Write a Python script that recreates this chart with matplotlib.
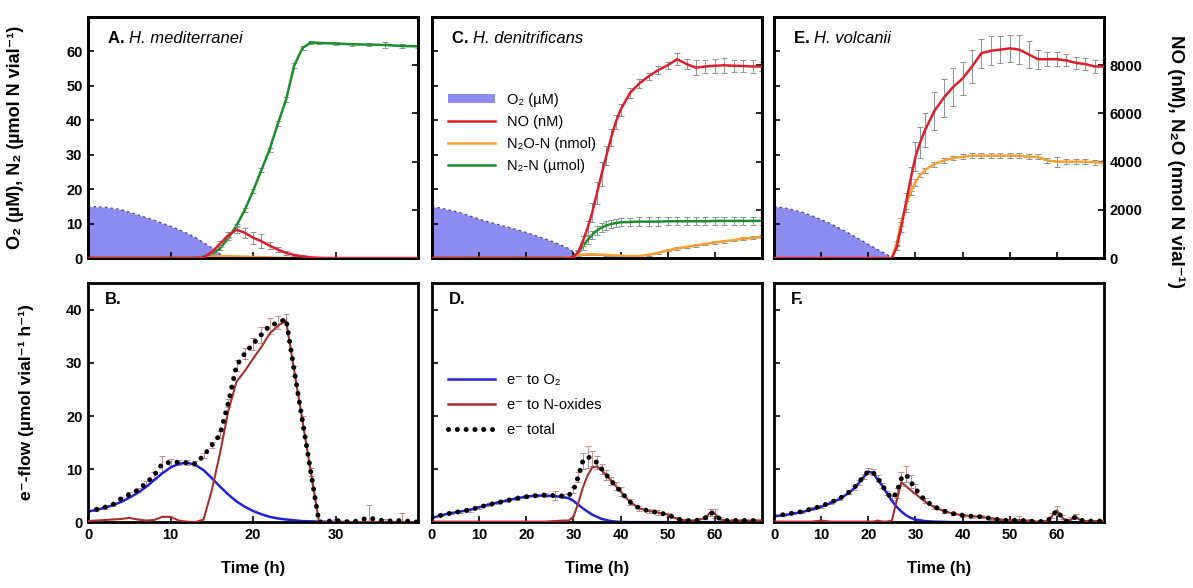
import matplotlib
matplotlib.use("Agg")
import matplotlib.pyplot as plt
from matplotlib.patches import Patch
from matplotlib.lines import Line2D

plt.rcParams['font.family'] = ['Liberation Sans', 'DejaVu Sans']
plt.rcParams['font.weight'] = 'bold'

# ---------------- top row data ----------------
# A. H. mediterranei
tA_o2 = [0, 2, 4, 6, 8, 10, 12, 13, 14, 15, 16, 16.5]
o2A = [15, 14.8, 14.1, 12.6, 11.0, 9.3, 7.2, 6.0, 4.5, 3.0, 1.2, 0]
tA = [0, 2, 4, 6, 8, 10, 12, 13, 14, 15, 16, 17, 18, 19, 20, 21, 22, 23, 24, 25,
      26, 27, 28, 30, 32, 34, 36, 38, 40]
n2A = [0.1, 0.1, 0.1, 0.1, 0.1, 0.1, 0.1, 0.1, 0.4, 1.2, 2.8, 5.8, 9.5, 14, 19.5,
       25.5, 31.5, 39, 46, 56, 61, 62.6, 62.5, 62.3, 62.1, 62, 61.9, 61.6, 61.5]
n2A_err = [0, 0, 0, 0, 0, 0, 0, 0, 0.2, 0.3, 0.3, 0.4, 0.4, 0.5, 0.5, 0.6, 0.6,
           0.7, 0.7, 0.8, 0.6, 0.5, 0.4, 0.4, 0.4, 0.5, 1.0, 0.5, 0.4]
noA = [0, 0, 0, 0, 0, 0, 0, 0, 30, 250, 600, 950, 1180, 1050, 850, 700, 520, 350,
       220, 130, 70, 30, 10, 0, 0, 0, 0, 0, 0]
noA_err = [0, 0, 0, 0, 0, 0, 0, 0, 20, 60, 100, 120, 150, 200, 250, 300, 150, 100,
           80, 60, 40, 20, 10, 0, 0, 0, 0, 0, 0]
n2oA = [0, 0, 0, 0, 0, 0, 0, 0, 20, 60, 80, 80, 70, 60, 50, 40, 30, 20, 10, 5, 0,
        0, 0, 0, 0, 0, 0, 0, 0]

# C. H. denitrificans
tC_o2 = [0, 3, 6, 9, 12, 15, 18, 21, 24, 27, 29, 30, 31]
o2C = [15, 14.2, 13.2, 11.8, 10.5, 9.4, 8.3, 7.0, 5.6, 4.0, 2.8, 1.8, 0]
tC = [0, 3, 6, 9, 12, 15, 18, 21, 24, 27, 29, 30, 31, 32, 33, 34, 35, 36, 37, 38,
      39, 40, 42, 44, 46, 48, 50, 52, 54, 56, 58, 60, 62, 64, 66, 68, 70]
noC = [0, 0, 0, 0, 0, 0, 0, 0, 0, 0, 0, 50, 250, 700, 1250, 1900, 2700, 3500,
       4250, 5000, 5650, 6150, 6850, 7250, 7550, 7800, 8000, 8250, 8050, 7900,
       7950, 7980, 8000, 7980, 7970, 7950, 7950]
noC_err = [0, 0, 0, 0, 0, 0, 0, 0, 0, 0, 0, 50, 100, 200, 300, 400, 450, 500, 400,
           350, 300, 250, 200, 200, 150, 150, 150, 250, 200, 300, 250, 300, 300,
           250, 250, 250, 200]
n2C = [0.1, 0.1, 0.1, 0.1, 0.1, 0.1, 0.1, 0.1, 0.1, 0.1, 0.1, 0.2, 1.5, 3.5, 5.3,
       6.8, 8.0, 8.9, 9.5, 9.9, 10.2, 10.4, 10.5, 10.6, 10.6, 10.6, 10.7, 10.7,
       10.7, 10.7, 10.7, 10.8, 10.8, 10.8, 10.8, 10.8, 10.8]
n2C_err = [0, 0, 0, 0, 0, 0, 0, 0, 0, 0, 0, 0.3, 0.6, 1.0, 1.2, 1.2, 1.2, 1.2, 1.2,
           1.2, 1.2, 1.2, 1.2, 1.2, 1.2, 1.2, 1.2, 1.2, 1.2, 1.2, 1.2, 1.2, 1.2,
           1.2, 1.2, 1.2, 1.2]
n2oC = [0, 0, 0, 0, 0, 0, 0, 0, 0, 0, 20, 60, 120, 150, 160, 160, 150, 140, 130,
        120, 110, 100, 80, 90, 140, 220, 320, 400, 470, 530, 590, 650, 700, 750,
        800, 840, 880]
n2oC_err = [0, 0, 0, 0, 0, 0, 0, 0, 0, 0, 0, 20, 30, 30, 30, 30, 30, 30, 30, 30,
            30, 30, 30, 30, 40, 40, 40, 50, 50, 50, 50, 50, 60, 60, 60, 60, 60]

# E. H. volcanii
tE_o2 = [0, 3, 6, 9, 12, 15, 18, 20, 22, 24, 25]
o2E = [15, 14.4, 13.3, 11.8, 10.0, 7.9, 5.6, 4.0, 2.5, 1.0, 0]
tE = [0, 3, 6, 9, 12, 15, 18, 20, 22, 24, 25, 26, 27, 28, 29, 30, 31, 32, 34, 36,
      38, 40, 42, 44, 46, 48, 50, 52, 54, 56, 58, 60, 62, 64, 66, 68, 70]
noE = [0, 0, 0, 0, 0, 0, 0, 0, 0, 0, 0, 450, 1300, 2300, 3300, 4200, 4800, 5300,
       6100, 6650, 7100, 7450, 7950, 8500, 8600, 8650, 8700, 8650, 8450, 8250,
       8250, 8250, 8200, 8100, 8050, 7950, 7950]
noE_err = [0, 0, 0, 0, 0, 0, 0, 0, 0, 0, 0, 100, 200, 400, 500, 600, 650, 700, 800,
           800, 800, 700, 700, 600, 600, 550, 550, 600, 550, 400, 300, 300, 250,
           250, 250, 250, 250]
n2oE = [0, 0, 0, 0, 0, 0, 0, 0, 0, 0, 0, 600, 1500, 2200, 2750, 3150, 3450, 3650,
        3900, 4050, 4150, 4200, 4250, 4250, 4250, 4250, 4250, 4250, 4200, 4200,
        4050, 4000, 4000, 4000, 4000, 3980, 3950]
n2oE_err = [0, 0, 0, 0, 0, 0, 0, 0, 0, 0, 0, 100, 150, 150, 150, 150, 100, 100,
            100, 100, 100, 100, 100, 100, 100, 100, 100, 100, 100, 100, 100, 200,
            100, 100, 100, 100, 100]
n2E = [0.1, 0.1, 0.1, 0.1, 0.1, 0.1, 0.1, 0.1, 0.1, 0.1, 0.1, 0.1, 0.1, 0.1, 0.1,
       0.1, 0.1, 0.1, 0.1, 0.1, 0.1, 0.1, 0.1, 0.1, 0.1, 0.1, 0.1, 0.1, 0.1, 0.1,
       0.1, 0.1, 0.1, 0.1, 0.1, 0.1, 0.1]

# ---------------- bottom row data (e- flow) ----------------
tB = [0, 1, 2, 3, 4, 5, 6, 7, 8, 9, 10, 11, 12, 13, 14, 15, 16, 17, 18, 19, 20,
      21, 22, 23, 24, 25, 26, 27, 28, 30, 32, 34, 36, 38, 40]
blueB = [2.0, 2.3, 2.7, 3.2, 3.8, 4.6, 5.5, 6.6, 7.9, 9.2, 10.3, 11.0, 11.2, 10.8,
         9.8, 8.3, 6.7, 5.2, 3.9, 2.9, 2.1, 1.5, 1.0, 0.7, 0.5, 0.35, 0.2, 0.15,
         0.1, 0.05, 0, 0, 0, 0, 0]
redB = [0.2, 0.3, 0.4, 0.5, 0.6, 0.8, 0.5, 0.3, 0.4, 1.0, 1.0, 0.3, 0.1, 0, 0.5,
        6, 13, 21, 26.5, 28.5, 30.8, 33, 35.5, 37, 38, 28.5, 19, 9.5, 0, 0, 0, 0,
        0, 0, 0]
totB = [2.1, 2.4, 2.8, 3.3, 4.4, 5.2, 6.0, 7.3, 8.8, 11.0, 11.3, 11.3, 11.2, 11.0,
        12.5, 14.5, 16.5, 22.5, 29.5, 31.8, 33.6, 35.3, 37.0, 37.6, 38.3, 28.5,
        19.0, 9.5, 0, 0.3, 0, 0.8, 0.2, 0.3, 0]
totB_err = [0, 0.3, 0.3, 0.3, 0.4, 0.4, 0.4, 0.5, 0.6, 1.5, 0.6, 0.5, 0.5, 0.5,
            0.5, 0.6, 0.6, 0.8, 1.0, 1.0, 1.2, 1.5, 1.5, 1.2, 1.0, 1.0, 1.0, 0.8,
            0, 0.3, 0, 2.5, 0.3, 1.5, 0]

tD = [0, 2, 4, 6, 8, 10, 12, 14, 16, 18, 20, 22, 24, 26, 28, 29, 30, 31, 32, 33,
      34, 35, 36, 37, 38, 39, 40, 42, 44, 46, 48, 50, 52, 54, 56, 58, 59, 60, 61,
      62, 64, 66, 68, 70]
blueD = [0.8, 1.3, 1.7, 2.0, 2.3, 2.8, 3.3, 3.7, 4.1, 4.5, 4.8, 5.0, 5.0, 4.9,
         4.7, 4.5, 4.0, 3.3, 2.6, 2.0, 1.4, 1.0, 0.6, 0.4, 0.2, 0.1, 0.05, 0, 0,
         0, 0, 0, 0, 0, 0, 0, 0, 0, 0, 0, 0, 0, 0, 0]
redD = [0.1, 0.1, 0.1, 0.1, 0.1, 0.1, 0.1, 0.1, 0.1, 0.1, 0.1, 0.1, 0.1, 0.2, 0.3,
        0.3, 1.0, 3.5, 6.5, 8.8, 10.3, 10.5, 9.8, 8.8, 7.8, 6.8, 5.8, 3.8, 2.6,
        2.1, 1.8, 1.4, 0.6, 0.3, 0.3, 0.8, 1.8, 1.6, 0.6, 0.3, 0.3, 0.3, 0.3, 0.3]
totD = [0.9, 1.3, 1.7, 2.0, 2.3, 2.8, 3.3, 3.7, 4.1, 4.5, 4.8, 5.0, 5.1, 5.0, 4.9,
        5.0, 6.0, 8.5, 11.5, 12.3, 12.0, 11.2, 10.0, 8.9, 7.8, 6.8, 5.8, 3.8, 2.6,
        2.1, 1.8, 1.4, 0.6, 0.3, 0.3, 0.8, 1.8, 1.6, 0.6, 0.3, 0.3, 0.3, 0.3, 0.3]
totD_err = [0, 0.2, 0.2, 0.2, 0.3, 0.3, 0.3, 0.3, 0.3, 0.3, 0.3, 0.3, 0.4, 0.8,
            0.4, 0.4, 0.6, 1.0, 1.5, 2.0, 1.5, 1.2, 1.0, 1.0, 0.8, 0.8, 0.8, 0.6,
            0.5, 0.4, 0.4, 0.4, 0.3, 0.3, 0.3, 0.3, 0.6, 0.8, 0.4, 0.2, 0.2, 0.2,
            0.2, 0.2]

tF = [0, 2, 4, 6, 8, 10, 12, 14, 16, 17, 18, 19, 20, 21, 22, 23, 24, 25, 26, 27,
      28, 29, 30, 32, 34, 36, 38, 40, 42, 44, 46, 48, 50, 52, 54, 56, 58, 59, 60,
      61, 62, 63, 64, 65, 66, 68, 70]
blueF = [1.1, 1.3, 1.6, 1.9, 2.4, 2.9, 3.6, 4.4, 5.6, 6.4, 7.4, 8.5, 9.5, 9.3, 8.0,
         6.8, 5.4, 4.0, 2.9, 2.0, 1.3, 0.8, 0.5, 0.2, 0.1, 0.05, 0, 0, 0, 0, 0, 0,
         0, 0, 0, 0, 0, 0, 0, 0, 0, 0, 0, 0, 0, 0, 0]
redF = [0.1, 0.1, 0.1, 0.1, 0.1, 0.3, 0.1, 0.1, 0.1, 0.1, 0.1, 0.1, 0.1, 0.1, 0.3,
        0.1, 0.1, 0.3, 4.0, 7.5, 6.8, 6.0, 5.3, 3.9, 2.8, 2.1, 1.6, 1.3, 1.1, 1.0,
        0.7, 0.4, 0.3, 0.4, 0.2, 0.1, 0.2, 1.2, 2.2, 1.0, 0.2, 0.5, 1.0, 0.4, 0.2,
        0.2, 0.2]
totF = [1.2, 1.4, 1.7, 2.0, 2.5, 3.0, 3.7, 4.5, 5.7, 6.5, 7.5, 8.6, 9.6, 9.4, 8.3,
        6.9, 5.5, 4.5, 5.5, 8.2, 9.0, 7.6, 6.3, 4.1, 2.9, 2.1, 1.6, 1.3, 1.1, 1.0,
        0.7, 0.4, 0.3, 0.4, 0.2, 0.1, 0.2, 1.2, 2.2, 1.0, 0.2, 0.5, 1.0, 0.4, 0.2,
        0.2, 0.2]
totF_err = [0, 0.2, 0.2, 0.2, 0.3, 0.3, 0.3, 0.3, 0.4, 0.4, 0.5, 0.5, 0.6, 0.6,
            0.5, 0.5, 0.4, 0.4, 1.0, 1.3, 1.5, 1.2, 0.8, 0.5, 0.4, 0.3, 0.3, 0.3,
            0.3, 0.3, 0.3, 0.3, 0.3, 0.8, 0.3, 0.2, 0.2, 0.5, 0.8, 0.4, 0.2, 0.5,
            0.5, 0.2, 0.2, 0.2, 0.2]

panel_letters = ['A.', 'C.', 'E.', 'B.', 'D.', 'F.']
species = ['H. mediterranei', 'H. denitrificans', 'H. volcanii']

# colours
C_O2 = '#8c8cf0'
C_O2_EDGE = '#3c3c8c'
C_NO = '#dc1f2a'
C_N2O = '#f5a033'
C_N2 = '#1c8e2a'
C_BLUE = '#2323d6'
C_MAROON = '#a8302c'
C_ERR = '#8a9494'
DOTS = (0, (0.01, 1.75))

fig = plt.figure(figsize=(11.93, 5.88), dpi=100)
lefts = [0.0738, 0.3621, 0.6488]
w = 0.2766
top_axes = [fig.add_axes([l, 0.561, w, 0.410]) for l in lefts]
bot_axes = [fig.add_axes([l, 0.112, w, 0.406]) for l in lefts]


def frame(ax):
    for s in ax.spines.values():
        s.set_linewidth(2)
    ax.tick_params(direction='in', length=4, width=1.2, labelsize=10.5, pad=4)


def err(ax, t, y, e, color=C_ERR):
    ax.errorbar(t, y, yerr=e, fmt='none', ecolor=color, elinewidth=0.7,
                capsize=2, capthick=0.7, zorder=1)


top_sets = [
    (tA_o2, o2A, tA, n2A, n2A_err, noA, noA_err, n2oA, None, 40, [0, 10, 20, 30]),
    (tC_o2, o2C, tC, n2C, n2C_err, noC, noC_err, n2oC, n2oC_err, 70,
     [0, 10, 20, 30, 40, 50, 60]),
    (tE_o2, o2E, tE, n2E, None, noE, noE_err, n2oE, n2oE_err, 70,
     [0, 10, 20, 30, 40, 50, 60]),
]

for i, (ax, d) in enumerate(zip(top_axes, top_sets)):
    t_o2, o2, t, n2, n2e, no, noe, n2o, n2oe, xmax, xt = d
    frame(ax)
    ax.fill_between(t_o2, o2, color=C_O2, lw=0, zorder=0)
    ax.plot(t_o2, o2, color=C_O2_EDGE, ls=(0, (2, 2.5)), lw=0.9, zorder=1)
    if n2e is not None:
        err(ax, t, n2, n2e)
    ax.plot(t, n2, color=C_N2, lw=1.8, zorder=2)
    ax.set_xlim(0, xmax)
    ax.set_ylim(0, 70)
    ax.set_yticks([0, 10, 20, 30, 40, 50, 60])
    ax.set_xticks(xt)
    ax.tick_params(labelbottom=False, labelleft=(i == 0))

    ax2 = ax.twinx()
    frame(ax2)
    if n2oe is not None:
        err(ax2, t, n2o, n2oe)
    ax2.plot(t, n2o, color=C_N2O, lw=1.8, zorder=2)
    err(ax2, t, no, noe)
    ax2.plot(t, no, color=C_NO, lw=1.8, zorder=3)
    ax2.set_ylim(0, 10000)
    ax2.set_yticks([0, 2000, 4000, 6000, 8000])
    ax2.tick_params(labelright=(i == 2))

    lab = ax2.text(0.06, 0.91, panel_letters[i] + ' ', transform=ax.transAxes,
                   fontsize=12, fontweight='bold', va='center', ha='left')
    ax2.annotate(species[i], xy=(1, 0.5), xycoords=lab, va='center', ha='left',
                 fontsize=12, fontstyle='italic', fontweight='normal')

    if i == 1:
        handles = [Patch(facecolor=C_O2, edgecolor='none'),
                   Line2D([], [], color=C_NO, lw=1.8),
                   Line2D([], [], color=C_N2O, lw=1.8),
                   Line2D([], [], color=C_N2, lw=1.8)]
        labels = ['O\u2082 (\u00b5M)', 'NO (nM)', 'N\u2082O-N (nmol)',
                  'N\u2082-N (\u00b5mol)']
        ax2.legend(handles, labels, loc='upper left', bbox_to_anchor=(0.01, 0.74),
                   frameon=False, handlelength=3.2, handleheight=0.6,
                   labelspacing=0.55, prop={'weight': 'normal', 'size': 10.5})

bot_sets = [
    (tB, blueB, redB, totB, totB_err, 40, [0, 10, 20, 30]),
    (tD, blueD, redD, totD, totD_err, 70, [0, 10, 20, 30, 40, 50, 60]),
    (tF, blueF, redF, totF, totF_err, 70, [0, 10, 20, 30, 40, 50, 60]),
]

for i, (ax, d) in enumerate(zip(bot_axes, bot_sets)):
    t, blue, red, tot, tot_e, xmax, xt = d
    frame(ax)
    err(ax, t, tot, tot_e, color='#c08c8c')
    ax.plot(t, blue, color=C_BLUE, lw=1.8, zorder=2)
    ax.plot(t, red, color=C_MAROON, lw=1.5, zorder=3)
    ax.plot(t, tot, color='black', lw=3.6, ls=DOTS,
            dash_capstyle='round', zorder=4)
    ax.set_xlim(0, xmax)
    ax.set_ylim(0, 45)
    ax.set_yticks([0, 10, 20, 30, 40])
    ax.set_xticks(xt)
    ax.tick_params(labelleft=(i == 0))
    ax.set_xlabel('Time (h)', fontsize=12, fontweight='bold', labelpad=14)
    ax.text(0.05, 0.965, panel_letters[3 + i], transform=ax.transAxes,
            fontsize=12, fontweight='bold', va='top', ha='left')
    if i == 1:
        handles = [Line2D([], [], color=C_BLUE, lw=1.8),
                   Line2D([], [], color=C_MAROON, lw=1.8),
                   Line2D([], [], color='black', lw=3.6, ls=DOTS,
                          dash_capstyle='round')]
        labels = ['e\u207b to O\u2082', 'e\u207b to N-oxides', 'e\u207b total']
        ax.legend(handles, labels, loc='upper left', bbox_to_anchor=(0.01, 0.68),
                  frameon=False, handlelength=3.2, labelspacing=0.75,
                  prop={'weight': 'normal', 'size': 10.5})

fig.text(0.013, 0.766, 'O\u2082 (\u00b5M), N\u2082 (\u00b5mol N vial\u207b\u00b9)',
         rotation=90, ha='center', va='center', fontsize=13, fontweight='bold')
fig.text(0.986, 0.725, 'NO (nM), N\u2082O (nmol N vial\u207b\u00b9)',
         rotation=270, ha='center', va='center', fontsize=13.5, fontweight='bold')
fig.text(0.022, 0.316, 'e\u207b-flow (\u00b5mol vial\u207b\u00b9 h\u207b\u00b9)',
         rotation=90, ha='center', va='center', fontsize=12.5, fontweight='bold')

fig.savefig('out.png', dpi=100)
